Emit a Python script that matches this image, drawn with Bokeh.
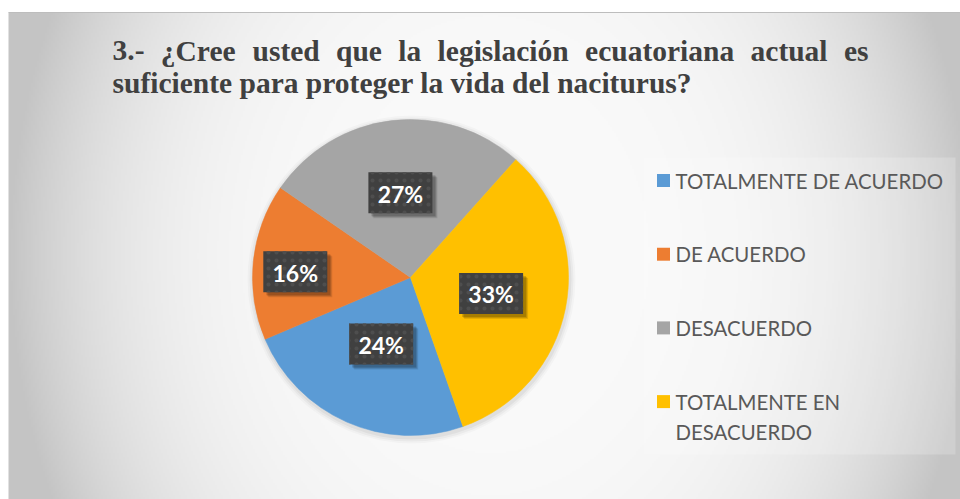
import math
import textwrap
import numpy as np
from bokeh.plotting import figure
from bokeh.models import Range1d
from bokeh.core.properties import value
from bokeh.embed import file_html
from bokeh.resources import INLINE

# ---------------- data ----------------
title_line1 = "3.- ¿Cree usted que la legislación ecuatoriana actual es"
title_line2 = "suficiente para proteger la vida del naciturus?"
categories = ["TOTALMENTE DE ACUERDO", "DE ACUERDO", "DESACUERDO", "TOTALMENTE EN DESACUERDO"]
percentages = [24, 16, 27, 33]
colors = ["#5B9BD5", "#ED7D31", "#A5A5A5", "#FFC000"]

# ---------------- layout helpers ----------------
W, H = 960, 499


def X(sx):
    return sx


def Y(sy):
    return H - sy


p = figure(width=W, height=H, x_range=Range1d(0, W), y_range=Range1d(0, H),
           output_backend="svg", toolbar_location=None, min_border=0,
           x_axis_type=None, y_axis_type=None)
p.grid.visible = False
p.outline_line_color = None
p.background_fill_color = "white"
p.border_fill_color = "white"

# background gradient (chart area)
left, right, top = 8, 960, 12
bw_ = right - left
bh = H - top
nc, nr = 476, 244
jj = left + (np.arange(nc) + 0.5) * bw_ / nc
ii = H - (np.arange(nr) + 0.5) * bh / nr
SX, SY = np.meshgrid(jj, ii)
rn2 = ((SX - 490) / 482.0) ** 2 + ((SY - 255) / 600.0) ** 2
val = 250 - 54 * np.clip(rn2, 0, 1) ** 1.8
v = val.astype(np.uint32)
img = (255 << 24) | (v << 16) | (v << 8) | v
p.image_rgba(image=[img.astype(np.uint32)], x=left, y=0, dw=bw_, dh=bh)
p.segment(x0=[left], x1=[right], y0=[Y(top)], y1=[Y(top)], line_color="#bdbdbd", line_width=1)

# legend box (slightly lighter)
p.quad(left=X(643), right=X(955), top=Y(157), bottom=Y(454),
       fill_color="white", fill_alpha=0.2, line_color=None)

# ---------------- title (justified first line) ----------------
TB = {'3': 500, '.': 250, '-': 333, '¿': 500, 'C': 722, 'r': 444, 'e': 444, 'u': 556,
      's': 389, 't': 333, 'd': 556, 'q': 556, 'l': 278, 'a': 500, 'g': 500, 'i': 278,
      'ó': 500, 'c': 444, 'n': 556, 'o': 500}
fs = 29.5
def wpx(s):
    return sum(TB.get(c, 500) for c in s) / 1000.0 * fs

words = title_line1.split()
x_left, x_right = 112, 868
gap = (x_right - x_left - sum(wpx(w) for w in words)) / (len(words) - 1)
xs = []
cur = x_left
for w in words:
    xs.append(X(cur))
    cur += wpx(w) + gap
title_font = dict(text_font=value("Liberation Serif"), text_font_style="bold",
                  text_font_size=f"{fs}px", text_color="#404040",
                  text_baseline="alphabetic", text_align="left")
p.text(x=xs, y=[Y(50)] * len(words), text=words, **title_font)
p.text(x=[X(x_left)], y=[Y(82)], text=[title_line2], **title_font)

# ---------------- pie ----------------
cx, cy, r = X(410), Y(277), 158
first_angle = 160.6  # clockwise from 12 o'clock
total = float(sum(percentages))
fracs = np.array(percentages) / total
cum = np.concatenate([[0.0], np.cumsum(fracs)[:-1]])
start_cw = first_angle + cum * 360
end_cw = start_cw + fracs * 360
start = np.radians(90 - start_cw)
end = np.radians(90 - end_cw)

# soft shadow around pie
for k, a in [(6, 0.025), (4, 0.035), (2, 0.045)]:
    p.circle(x=[cx + 1], y=[cy - 2], radius=r + k, fill_color="black", fill_alpha=a, line_color=None)

p.wedge(x=cx, y=cy, radius=r, start_angle=start, end_angle=end, direction="clock",
        fill_color=colors, line_color=colors, line_width=0.5)

# data labels
label_r = [0.46, 0.73, 0.54, 0.52]
label_da = [0, -3, 0, 0]
mid = np.radians(start_cw + fracs * 180 + np.array(label_da))
lx = [cx + f * r * math.sin(m) for f, m in zip(label_r, mid)]
ly = [cy + f * r * math.cos(m) for f, m in zip(label_r, mid)]
bw, bhh = 64, 41
for off, a in [(5, 0.10), (4, 0.13), (3, 0.16)]:
    p.rect(x=[x + off for x in lx], y=[y - off for y in ly], width=bw, height=bhh,
           fill_color="black", fill_alpha=a, line_color=None)
p.rect(x=lx, y=ly, width=bw, height=bhh, fill_color="#404040", line_color=None,
       hatch_pattern="dot", hatch_color="#4e4e4e", hatch_scale=8, hatch_weight=1.5)
p.text(x=lx, y=[y - 1 for y in ly], text=[f"{v}%" for v in percentages],
       text_align="center", text_baseline="middle", text_font=value("Lato"),
       text_font_style="bold", text_font_size="23px", text_color="white")

# ---------------- legend ----------------
leg_y0, leg_step, line_gap = 180, 73.7, 30
sq_x, tx = 663, 675
for i, (cat, col) in enumerate(zip(categories, colors)):
    yc = leg_y0 + i * leg_step
    p.rect(x=[X(sq_x)], y=[Y(yc)], width=13, height=13, fill_color=col, line_color=None)
    lines = textwrap.wrap(cat, 21)
    p.text(x=[X(tx)] * len(lines), y=[Y(yc + k * line_gap) for k in range(len(lines))],
           text=lines, text_align="left", text_baseline="middle",
           text_font=value("Lato"), text_font_size="20.4px", text_color="#595959")

open("out.html", "w").write(file_html(p, INLINE))
